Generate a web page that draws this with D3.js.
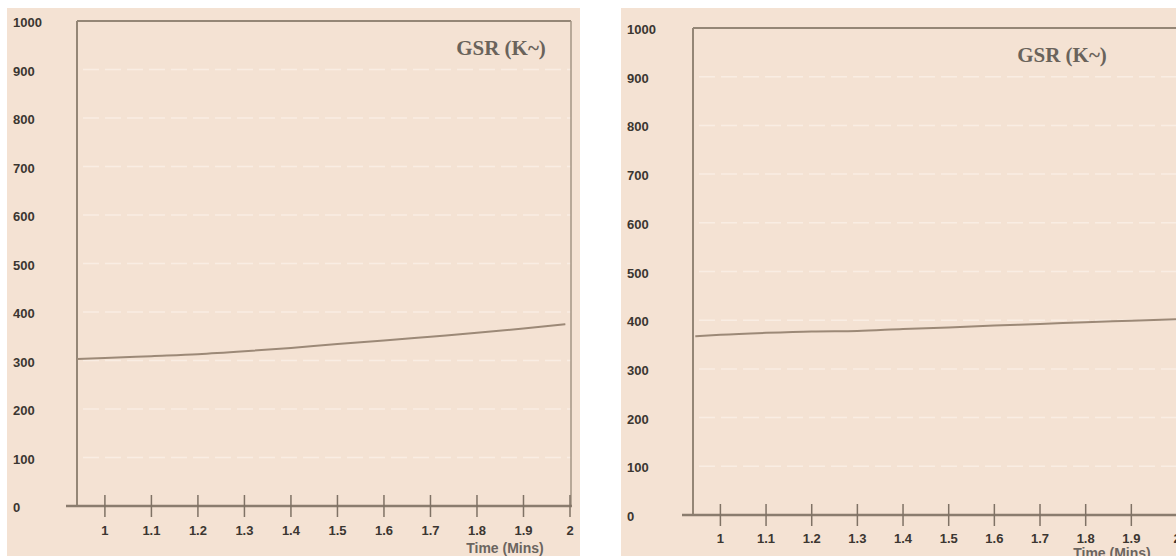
<!DOCTYPE html>
<html>
<head>
<meta charset="utf-8">
<script src="https://cdn.jsdelivr.net/npm/d3@7"></script>
<style>
  html, body { margin: 0; padding: 0; background: #fff; }
  svg { display: block; }
</style>
</head>
<body>
<div id="chart"></div>
<script>
// tick values shared by both panels
const timeTicks = [1, 1.1, 1.2, 1.3, 1.4, 1.5, 1.6, 1.7, 1.8, 1.9, 2];
const gsrTicks = [0, 100, 200, 300, 400, 500, 600, 700, 800, 900, 1000];
const timeDomain = [0.94, 2];
const titleText = "GSR (K~)";
const xTitleText = "Time (Mins)";

// left panel series
const leftTime = [0.94, 1.0, 1.1, 1.2, 1.3, 1.4, 1.5, 1.6, 1.7, 1.8, 1.9, 1.99];
const leftGSR = [303, 305, 309, 313, 319, 326, 334, 341, 349, 357, 366, 375];

// right panel series
const rightTime = [0.945, 1.0, 1.1, 1.2, 1.3, 1.4, 1.5, 1.6, 1.7, 1.8, 1.9, 2.0];
const rightGSR = [367, 370, 374, 377, 378, 382, 385, 389, 392, 396, 399, 402];

const W = 1176, H = 556;
const svg = d3.select("#chart").append("svg")
  .attr("width", W)
  .attr("height", H);

function drawPanel(p) {
  const g = svg.append("g");

  // beige backdrop
  g.append("rect")
    .attr("x", p.bg[0]).attr("y", p.bg[1])
    .attr("width", p.bg[2]).attr("height", p.bg[3])
    .attr("fill", "#f4e2d3");

  const x = d3.scaleLinear().domain(timeDomain).range([p.left, p.right]);
  const y = d3.scaleLinear().domain([0, 1000]).range([p.bottom, p.top]);

  // faint dashed grid
  g.selectAll(".grid").data(gsrTicks.slice(1, -1)).join("line")
    .attr("x1", p.left + 6).attr("x2", p.frameRight)
    .attr("y1", d => y(d)).attr("y2", d => y(d))
    .attr("stroke", "#f9ede3")
    .attr("stroke-width", 1.5)
    .attr("stroke-dasharray", "16,6");

  // frame: left + top (+ right when visible)
  g.append("line")
    .attr("x1", x(timeDomain[0])).attr("x2", x(timeDomain[0]))
    .attr("y1", y(1000)).attr("y2", y(0))
    .attr("stroke", "#948676").attr("stroke-width", 2);
  g.append("line")
    .attr("x1", x(timeDomain[0])).attr("x2", p.frameRight)
    .attr("y1", y(1000)).attr("y2", y(1000))
    .attr("stroke", "#948676").attr("stroke-width", 2);
  if (p.showRight) {
    g.append("line")
      .attr("x1", p.frameRight).attr("x2", p.frameRight)
      .attr("y1", y(1000)).attr("y2", y(0))
      .attr("stroke", "#a39584").attr("stroke-width", 1.5);
  }

  // x axis line
  g.append("line")
    .attr("x1", p.left - 11).attr("x2", p.axisEnd)
    .attr("y1", y(0)).attr("y2", y(0))
    .attr("stroke", "#8a7c6e").attr("stroke-width", 2.5);

  // ticks crossing the axis
  g.selectAll(".tick").data(timeTicks).join("line")
    .attr("x1", d => x(d)).attr("x2", d => x(d))
    .attr("y1", y(0) - 11).attr("y2", y(0) + 11)
    .attr("stroke", "#7f7265").attr("stroke-width", 1.5);

  g.selectAll(".xlab").data(timeTicks).join("text")
    .attr("x", d => x(d))
    .attr("y", y(0) + p.labelDy)
    .attr("text-anchor", "middle")
    .attr("font-family", "Liberation Sans, Arial, sans-serif")
    .attr("font-weight", "bold")
    .attr("font-size", 13)
    .attr("fill", "#3b3631")
    .text(d => d);

  g.selectAll(".ylab").data(gsrTicks).join("text")
    .attr("x", p.ylabX)
    .attr("y", d => y(d) + 6)
    .attr("font-family", "Liberation Sans, Arial, sans-serif")
    .attr("font-weight", "bold")
    .attr("font-size", 13)
    .attr("fill", "#3b3631")
    .text(d => d);

  // data line
  const line = d3.line()
    .x(d => x(d[0]))
    .y(d => y(d[1]))
    .curve(d3.curveMonotoneX);
  g.append("path")
    .datum(p.time.map((t, i) => [t, p.gsr[i]]))
    .attr("d", line)
    .attr("fill", "none")
    .attr("stroke", "#9c8977")
    .attr("stroke-width", 2);

  // titles
  g.append("text")
    .attr("x", p.titleX).attr("y", p.titleY)
    .attr("text-anchor", "middle")
    .attr("font-family", "Liberation Serif, Times New Roman, serif")
    .attr("font-weight", "bold")
    .attr("font-size", 21)
    .attr("fill", "#6a635b")
    .text(titleText);

  g.append("text")
    .attr("x", p.xTitleX).attr("y", p.xTitleY)
    .attr("text-anchor", "middle")
    .attr("font-family", "Liberation Sans, Arial, sans-serif")
    .attr("font-weight", "bold")
    .attr("font-size", 14)
    .attr("fill", "#6b655f")
    .text(xTitleText);
}

drawPanel({
  bg: [7, 8, 573, 548],
  left: 77, right: 570, top: 21, bottom: 506,
  frameRight: 571, axisEnd: 572, showRight: true,
  ylabX: 13, labelDy: 29,
  time: leftTime, gsr: leftGSR,
  titleX: 501, titleY: 55,
  xTitleX: 505, xTitleY: 553
});

drawPanel({
  bg: [621, 8, 555, 548],
  left: 693, right: 1177, top: 28, bottom: 515,
  frameRight: 1176, axisEnd: 1176, showRight: false,
  ylabX: 627, labelDy: 28,
  time: rightTime, gsr: rightGSR,
  titleX: 1062, titleY: 62,
  xTitleX: 1112, xTitleY: 558
});
</script>
</body>
</html>
